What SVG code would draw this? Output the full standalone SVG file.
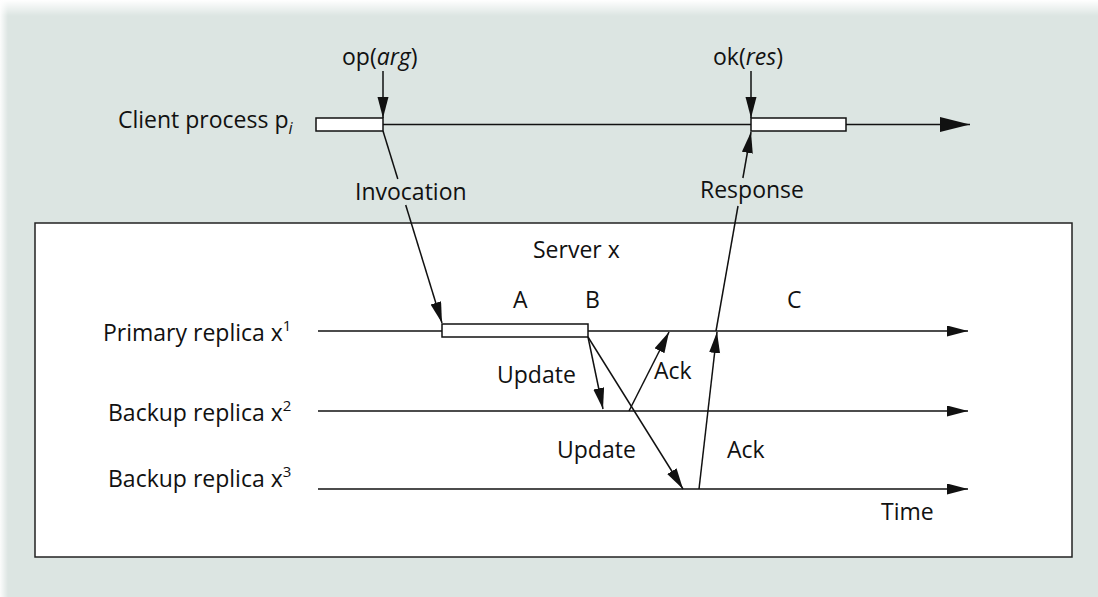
<svg xmlns="http://www.w3.org/2000/svg" width="1098" height="597" viewBox="0 0 1098 597">
<defs>
<linearGradient id="topfade" x1="0" y1="0" x2="0" y2="1"><stop offset="0" stop-color="#fff" stop-opacity="1"/><stop offset="1" stop-color="#fff" stop-opacity="0"/></linearGradient>
<linearGradient id="leftfade" x1="0" y1="0" x2="1" y2="0"><stop offset="0" stop-color="#fff" stop-opacity="0.9"/><stop offset="1" stop-color="#fff" stop-opacity="0"/></linearGradient>
<marker id="ah" markerUnits="userSpaceOnUse" markerWidth="22" markerHeight="12" refX="21" refY="5.5" orient="auto"><path d="M0,0 L21,5.5 L0,11 z" fill="#111"/></marker>
<marker id="big" markerUnits="userSpaceOnUse" markerWidth="31" markerHeight="16" refX="30" refY="7.5" orient="auto"><path d="M0,0 L30,7.5 L0,15 z" fill="#111"/></marker>
</defs>
<style>
text{font-family:"Open Sans","Noto Sans","DejaVu Sans",sans-serif;font-size:23px;fill:#111}
.ln{stroke:#111;stroke-width:1.5;fill:none}
.bar{fill:#fff;stroke:#111;stroke-width:1.5}
.arr{stroke:#111;stroke-width:1.5;fill:none;marker-end:url(#ah)}
</style>
<rect width="1098" height="597" fill="#dce5e2"/>
<rect width="1098" height="16" fill="url(#topfade)"/>
<rect width="8" height="597" fill="url(#leftfade)"/>
<rect x="35" y="223" width="1037" height="334" fill="#fff" stroke="#222" stroke-width="1.5"/>
<text x="533" y="258">Server x</text>
<text x="513" y="308">A</text>
<text x="585" y="308">B</text>
<text x="787" y="308">C</text>
<text x="881" y="520">Time</text>
<g id="client">
<text x="118" y="128">Client process p<tspan font-size="16" font-style="italic" dy="6">i</tspan></text>
<line class="ln" x1="383" y1="124.5" x2="970" y2="124.5" marker-end="url(#big)"/>
<rect class="bar" x="316" y="118" width="67" height="13"/>
<rect class="bar" x="751" y="118" width="95" height="13"/>
</g>
<g id="primary">
<text x="103" y="341">Primary replica x<tspan font-size="15" dy="-10">1</tspan></text>
<line class="arr" x1="318" y1="331" x2="968" y2="331"/>
<rect class="bar" x="442" y="324" width="146" height="13"/>
</g>
<g id="backup2">
<text x="108" y="421">Backup replica x<tspan font-size="15" dy="-10">2</tspan></text>
<line class="arr" x1="318" y1="411" x2="968" y2="411"/>
</g>
<g id="backup3">
<text x="108" y="487">Backup replica x<tspan font-size="15" dy="-10">3</tspan></text>
<line class="arr" x1="318" y1="489" x2="968" y2="489"/>
</g>
<g id="connectors">
<text x="342" y="65">op(<tspan font-style="italic">arg</tspan>)</text>
<line class="arr" x1="383" y1="71" x2="383" y2="118"/>
<text x="713" y="65">ok(<tspan font-style="italic">res</tspan>)</text>
<line class="arr" x1="751" y1="71" x2="751" y2="118"/>
<line class="ln" x1="383" y1="131" x2="397.8" y2="179"/>
<text x="355" y="200">Invocation</text>
<line class="arr" x1="405.7" y1="205" x2="442" y2="323"/>
<line class="ln" x1="716" y1="331" x2="738" y2="206"/>
<text x="700" y="198">Response</text>
<line class="arr" x1="742.9" y1="178" x2="751" y2="132"/>
<line class="arr" x1="588" y1="337" x2="603" y2="409"/>
<line class="arr" x1="588" y1="337" x2="683" y2="489"/>
<line class="arr" x1="629" y1="411" x2="669" y2="332"/>
<line class="arr" x1="699" y1="489" x2="717" y2="332"/>
<text x="497" y="383">Update</text>
<text x="557" y="458">Update</text>
<text x="654" y="379">Ack</text>
<text x="727" y="458">Ack</text>
</g>
</svg>
